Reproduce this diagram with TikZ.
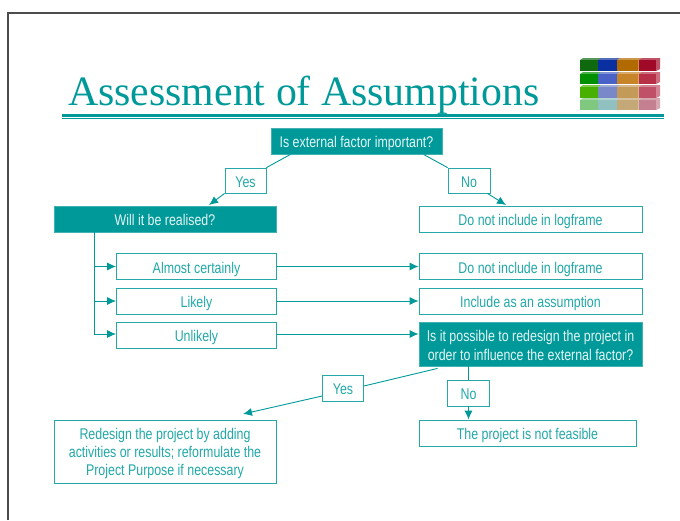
\documentclass[tikz,border=0pt]{standalone}
\usepackage{fontspec}
\setmainfont{Liberation Serif}
\newfontfamily\narrowfont[FakeStretch=0.8]{Liberation Sans}
\usepackage{xcolor}
\usetikzlibrary{calc,arrows.meta}
\definecolor{tealmain}{HTML}{009999}
\definecolor{tealtext}{HTML}{22A8A8}
\definecolor{greenA}{HTML}{0F6A0F}
\definecolor{greenB}{HTML}{009000}
\definecolor{greenC}{HTML}{48B000}
\definecolor{greenD}{HTML}{80C880}
\definecolor{blueA}{HTML}{0A2FA0}
\definecolor{blueB}{HTML}{4A62C8}
\definecolor{blueC}{HTML}{7888C8}
\definecolor{blueD}{HTML}{90C0C0}
\definecolor{orangeA}{HTML}{B06A00}
\definecolor{orangeB}{HTML}{C88428}
\definecolor{orangeC}{HTML}{C49A58}
\definecolor{orangeD}{HTML}{C4A878}
\definecolor{redA}{HTML}{A00A28}
\definecolor{redB}{HTML}{B83048}
\definecolor{redC}{HTML}{C05068}
\definecolor{redD}{HTML}{C48090}
\tikzset{
    filledbox/.style={draw=tealmain!75,line width=0.8pt,fill=tealmain,text=white!90!tealmain,
        font=\narrowfont\fontsize{15.5}{19}\selectfont,align=center,inner sep=0pt,
        text height=16pt,text depth=3pt},
    plainbox/.style={draw=tealmain!85,line width=0.8pt,fill=white,text=tealtext,
        font=\narrowfont\fontsize{15.5}{18}\selectfont,align=center,inner sep=0pt,
        text height=16pt,text depth=3pt},
    flowline/.style={draw=tealmain,line width=0.9pt},
    flowarrow/.style={flowline,-{Latex[length=9pt,width=8pt]}}
}
\begin{document}
\begin{tikzpicture}[x=1pt,y=-1pt]

    \useasboundingbox (0,0) rectangle (680,520);

    % slide frame
    \draw [line width=1.3pt,black!70] (8,520) -- (8,13) -- (680,13);

    % title and rules
    \node (Title) [anchor=base west,inner sep=0pt,text=tealmain,
        font=\fontsize{41.8}{50}\selectfont] at (68,105) {Assessment of Assumptions};
    \fill [tealmain] (62,114) rectangle (664,117);
    \fill [tealmain] (62,118) rectangle (664,119);

    % logo blocks
    \foreach \xa/\xb/\hue in {580/598/green,598/617/blue,617/638/orange,639/656/red} {
        \foreach \ya/\yb/\shade in {60/71/A,74/84/B,87/98/C,100/110/D} {
            \fill [\hue\shade!70!white] (\xa,\ya) -- (\xa+3,\ya-2) -- (\xb+4,\ya-2)
                -- (\xb+4,\yb-2) -- (\xb,\yb) -- cycle;
            \fill [\hue\shade] (\xa,\ya) rectangle (\xb,\yb);
        }
    }

    % boxes
    \node (factor) [filledbox,minimum width=171pt,minimum height=26pt] at (356.5,141) {Is external factor important?};
    \node (realised) [filledbox,minimum width=222pt,minimum height=26pt] at (165,219) {Will it be realised?};
    \node (exclude) [plainbox,minimum width=223pt,minimum height=26pt] at (530.5,219) {Do not include in logframe};

    \node (certain) [plainbox,minimum width=160pt,minimum height=26pt] at (196.5,266.5) {Almost certainly};
    \node (likely) [plainbox,minimum width=160pt,minimum height=26pt] at (196.5,301) {Likely};
    \node (unlikely) [plainbox,minimum width=160pt,minimum height=26pt] at (196.5,335) {Unlikely};

    \node (excludeB) [plainbox,minimum width=223pt,minimum height=26pt] at (530.5,266.5) {Do not include in logframe};
    \node (assume) [plainbox,minimum width=223pt,minimum height=26pt] at (530.5,301) {Include as an assumption};
    \node (redesign) [filledbox,text height=36pt,text depth=4pt,minimum width=223pt,minimum height=44pt] at (530.5,344) {Is it possible to redesign the project in\\order to influence the external factor?};

    \node (feasible) [plainbox,minimum width=217pt,minimum height=26pt] at (527.5,433) {The project is not feasible};
    \node (adding) [plainbox,text height=52pt,text depth=5pt,minimum width=222pt,minimum height=63pt] at (165,451.5) {Redesign the project by adding\\activities or results; reformulate the\\Project Purpose if necessary};

    \node (yesA) [plainbox,minimum width=41pt,minimum height=25pt] at (245.5,180.5) {Yes};
    \node (noA) [plainbox,minimum width=42pt,minimum height=25pt] at (469,180.5) {No};
    \node (yesB) [plainbox,minimum width=41pt,minimum height=26pt] at (343,388) {Yes};
    \node (noB) [plainbox,minimum width=42pt,minimum height=26pt] at (468.5,393) {No};

    % free ends
    \coordinate (trunk) at (94,334);
    \coordinate (tipYesA) at (209,205);
    \coordinate (tipNoA) at (506,205);
    \coordinate (tipYesB) at (243,414);

    % connectors
    \draw [flowline] ($(factor.south)+(-66,0)$) -- (yesA.north east);
    \draw [flowarrow] (yesA.south west) -- (tipYesA);
    \draw [flowline] ($(factor.south)+(67,0)$) -- (noA.north west);
    \draw [flowarrow] ($(noA.south east)+(-3,0)$) -- (tipNoA);

    \draw [flowline] (realised.south -| trunk) -- (trunk);
    \draw [flowarrow] (trunk |- certain.west) -- (certain.west);
    \draw [flowarrow] (trunk |- likely.west) -- (likely.west);
    \draw [flowarrow] (trunk) -- (trunk -| unlikely.west);

    \draw [flowarrow] (certain.east) -- (excludeB.west);
    \draw [flowarrow] (likely.east) -- (assume.west);
    \draw [flowarrow] ($(unlikely.east)+(0,-1)$) -- ($(unlikely.east -| redesign.west)+(0,-1)$);

    \draw [flowline] ($(redesign.south west)+(19,2)$) -- ($(yesB.east)+(0,-2)$);
    \draw [flowarrow] ($(yesB.west)+(0,8)$) -- (tipYesB);
    \draw [flowline] (redesign.south -| noB.north) -- (noB.north);
    \draw [flowarrow] (noB.south) -- (noB.south |- feasible.north);

\end{tikzpicture}
\end{document}
